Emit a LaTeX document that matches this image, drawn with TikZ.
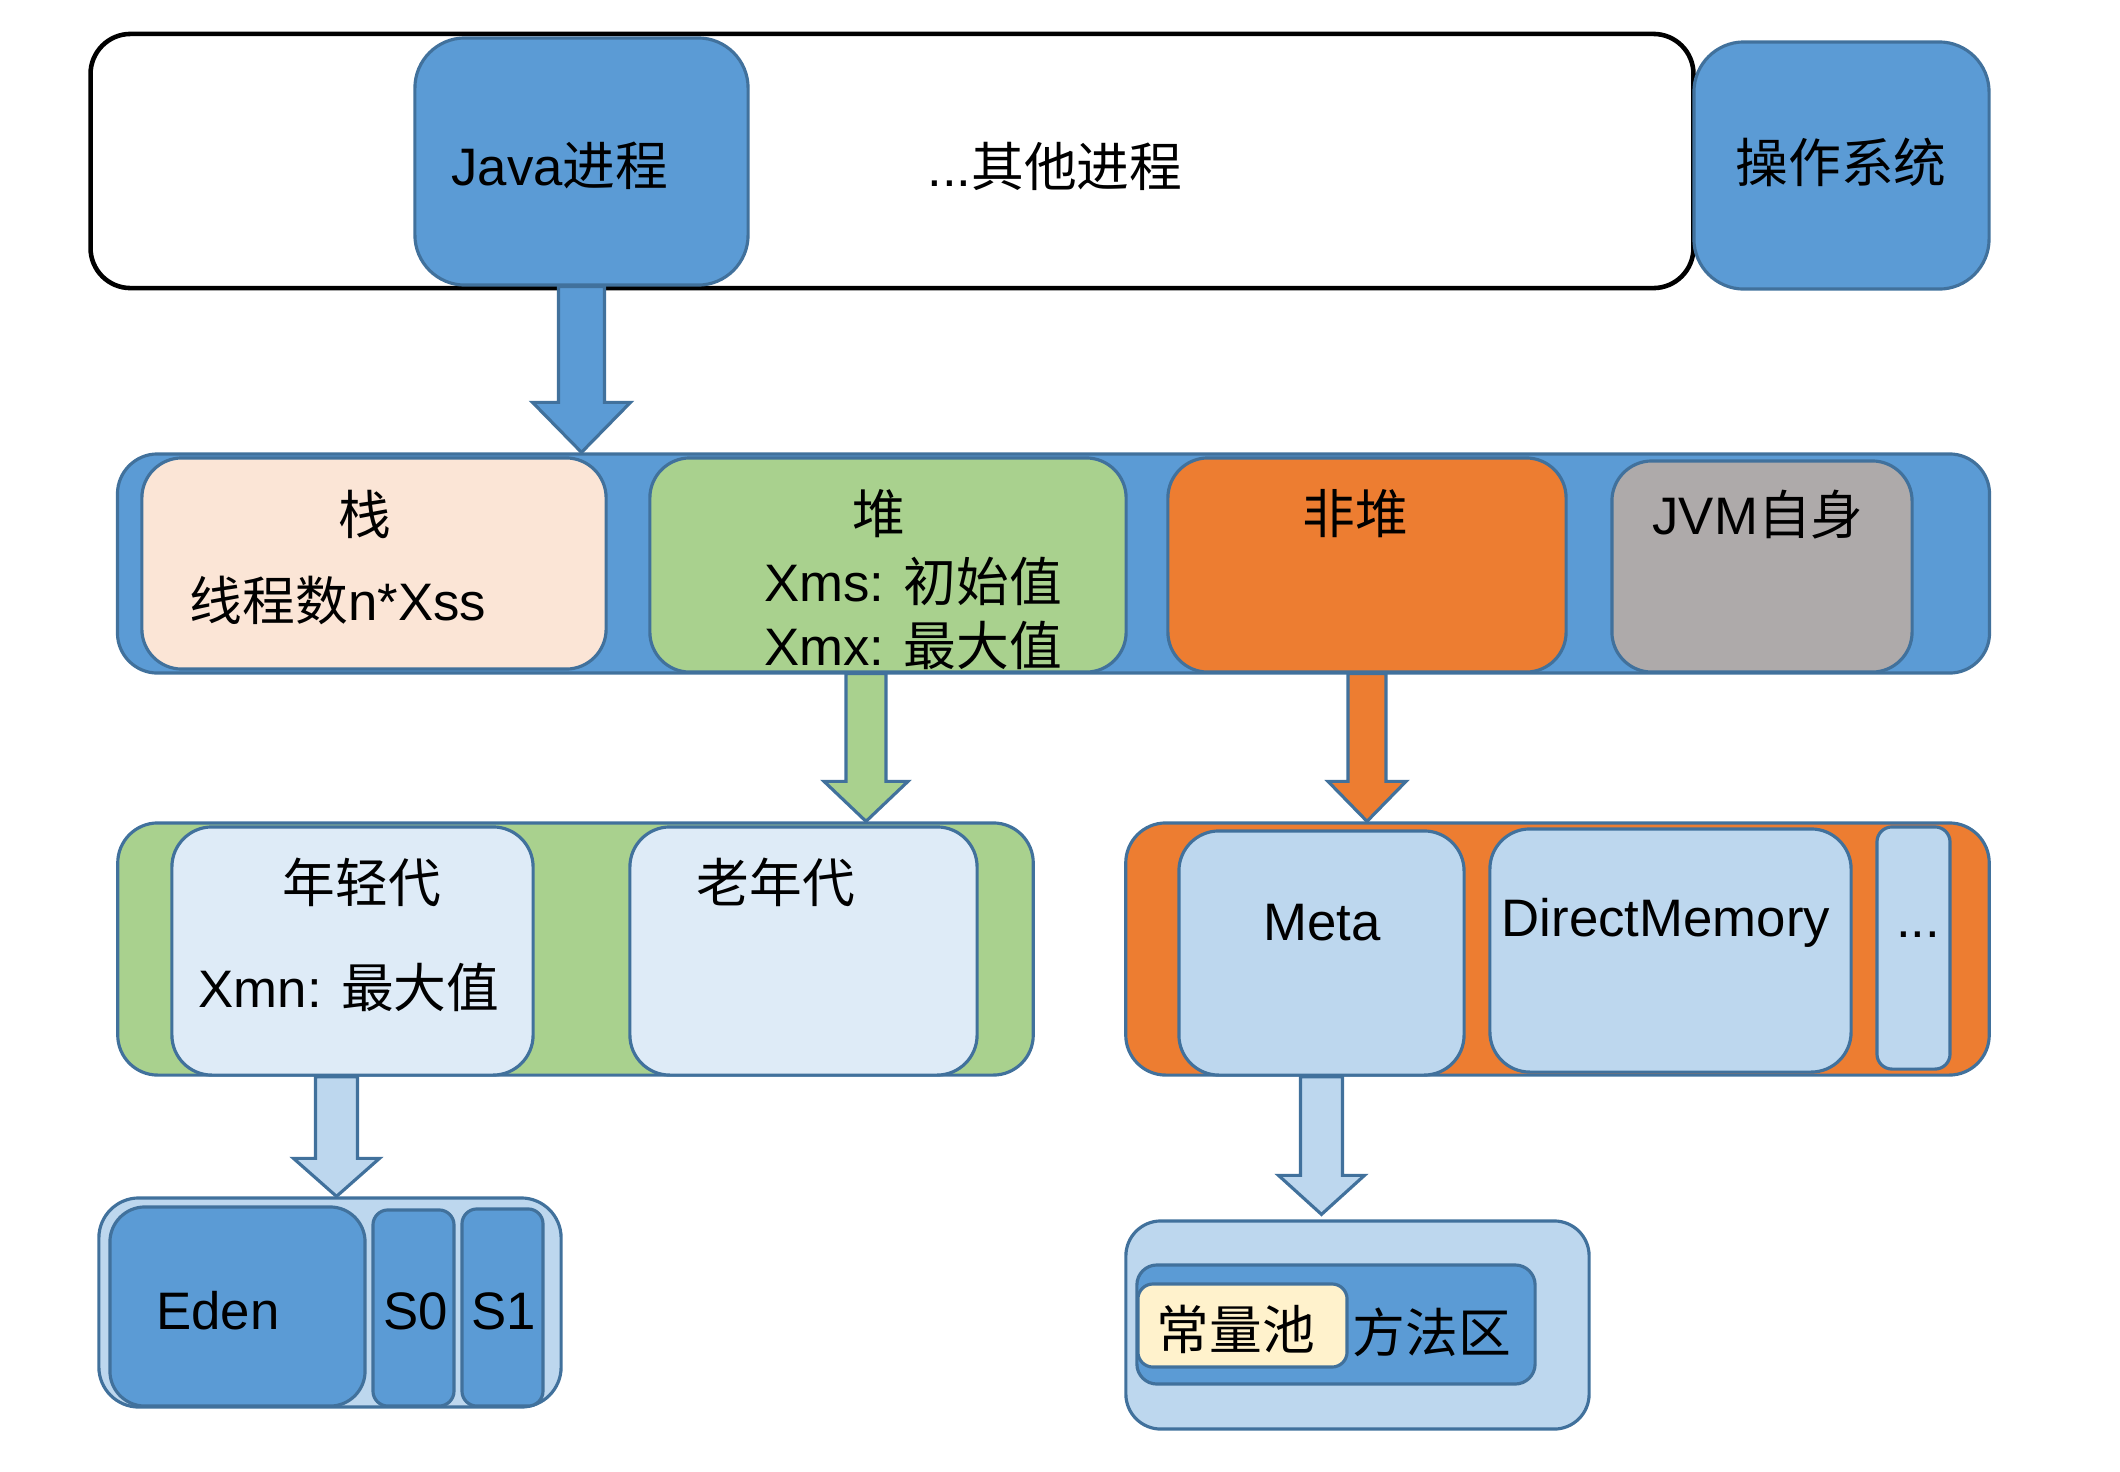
\documentclass[tikz,border=0pt]{standalone}
\usepackage{fontspec}
\setmainfont{Liberation Sans}
\newfontfamily\cjk{Noto Sans CJK SC}
\usepackage{tikz}
\usetikzlibrary{calc}
\definecolor{jblue}{HTML}{5B9BD5}
\definecolor{jedge}{HTML}{41719C}
\definecolor{jlight}{HTML}{BDD7EE}
\definecolor{jpale}{HTML}{DEEBF7}
\definecolor{jpeach}{HTML}{FBE5D6}
\definecolor{jgreen}{HTML}{A9D18E}
\definecolor{jorange}{HTML}{ED7D31}
\definecolor{jgray}{HTML}{AEAAAA}
\definecolor{jcream}{HTML}{FFF2CC}
\def\blockarrow[#1](#2)(#3)(#4:#5:#6){\draw[#1] ($(#2)+(-#4,0)$) -- ($(#3)+(-#4,-#6)$) -- ($(#3)+(-#5,-#6)$) -- (#3) -- ($(#3)+(#5,-#6)$) -- ($(#3)+(#4,-#6)$) -- ($(#2)+(#4,0)$) -- cycle;}

\begin{document}
\begin{tikzpicture}[x=0.01cm, y=-0.01cm,
		blk/.style={draw=jedge, line width=0.9pt, rounded corners=0.4cm, inner sep=0pt},
		txt/.style={inner sep=0pt, font=\fontsize{15}{18}\selectfont},
		arr/.style={draw=jedge, line width=0.9pt, line join=miter}]
			%%%%% START %%%%%
			\useasboundingbox (0,0) rectangle (2120,1472);
			
			% processes
			\node[draw=black, line width=1.3pt, rounded corners=0.4cm, fill=white, minimum width=16.02cm, minimum height=2.54cm] (procs) at (892,161) {};
			\node[blk, fill=jblue, rounded corners=0.5cm, minimum width=3.33cm, minimum height=2.47cm] (java) at (581.5,161.5) {};
			\node[blk, fill=jblue, rounded corners=0.5cm, minimum width=2.95cm, minimum height=2.47cm] (os) at (1841.5,165.5) {};
			\node[txt] (javalbl) at (560,166) {Java{\cjk 进程}};
			\node[txt] (otherlbl) at (1055,166) {...{\cjk 其他进程}};
			\node[txt] (oslbl) at (1841,162) {\cjk 操作系统};
			
			% jvm memory
			\node[blk, fill=jblue, minimum width=18.71cm, minimum height=2.19cm] (jvm) at (1053.5,563.5) {};
			\node[blk, fill=jpeach, minimum width=4.64cm, minimum height=2.11cm] (stack) at (374,563.5) {};
			\node[blk, fill=jgreen, minimum width=4.76cm, minimum height=2.14cm] (heap) at (888,565) {};
			\node[blk, fill=jorange, minimum width=3.98cm, minimum height=2.14cm] (nonheap) at (1367,565) {};
			\node[blk, fill=jgray, minimum width=3.00cm, minimum height=2.11cm] (jvmself) at (1762,566.5) {};
			\node[txt] (stacklbl) at (365,514) {\cjk 栈};
			\node[txt] (xsslbl) at (338,600) {{\cjk 线程数}n*Xss};
			\node[txt] (heaplbl) at (879,514) {\cjk 堆};
			\node[txt] (xmslbl) at (913,581) {Xms: {\cjk 初始值}};
			\node[txt] (xmxlbl) at (913,645) {Xmx: {\cjk 最大值}};
			\node[txt] (nonheaplbl) at (1355,514) {\cjk 非堆};
			\node[txt] (jvmselflbl) at (1758,515) {JVM{\cjk 自身}};
			
			% heap
			\node[blk, fill=jgreen, minimum width=9.15cm, minimum height=2.52cm] (heapbar) at (575.5,949) {};
			\node[blk, fill=jpale, minimum width=3.61cm, minimum height=2.48cm] (young) at (352.5,951) {};
			\node[blk, fill=jpale, minimum width=3.47cm, minimum height=2.48cm] (old) at (803.5,951) {};
			\node[txt] (younglbl) at (362,882) {\cjk 年轻代};
			\node[txt] (xmnlbl) at (349,987) {Xmn: {\cjk 最大值}};
			\node[txt] (oldlbl) at (776,882) {\cjk 老年代};
			
			% non-heap
			\node[blk, fill=jorange, minimum width=8.63cm, minimum height=2.52cm] (nhbar) at (1557.5,949) {};
			\node[blk, fill=jlight, minimum width=2.85cm, minimum height=2.44cm] (meta) at (1321.5,953) {};
			\node[blk, fill=jlight, minimum width=3.61cm, minimum height=2.43cm] (direct) at (1670.5,950.5) {};
			\node[blk, fill=jlight, rounded corners=0.15cm, minimum width=0.73cm, minimum height=2.42cm] (more) at (1913.5,948) {};
			\node[txt] (metalbl) at (1322,923) {Meta};
			\node[txt] (directlbl) at (1666,923) {DirectMemory};
			\node[txt] (morelbl) at (1918,935) {...};
			
			% young generation
			\node[blk, fill=jlight, minimum width=4.62cm, minimum height=2.09cm] (edengrp) at (330,1302.5) {};
			\node[blk, fill=jblue, rounded corners=0.35cm, minimum width=2.55cm, minimum height=1.99cm] (eden) at (237.5,1306.5) {};
			\node[blk, fill=jblue, rounded corners=0.15cm, minimum width=0.81cm, minimum height=1.96cm] (szero) at (413.5,1308) {};
			\node[blk, fill=jblue, rounded corners=0.15cm, minimum width=0.81cm, minimum height=1.97cm] (sone) at (502.5,1307.5) {};
			\node[txt] (edenlbl) at (218,1311) {Eden};
			\node[txt] (szerolbl) at (416,1311) {S0};
			\node[txt] (sonelbl) at (504,1311) {S1};
			
			% method area
			\node[blk, fill=jlight, rounded corners=0.35cm, minimum width=4.63cm, minimum height=2.08cm] (methgrp) at (1357.5,1325) {};
			\node[blk, fill=jblue, rounded corners=0.2cm, minimum width=3.98cm, minimum height=1.19cm] (method) at (1336,1324.5) {};
			\node[blk, fill=jcream, rounded corners=0.15cm, minimum width=2.09cm, minimum height=0.83cm] (pool) at (1242.5,1325.5) {};
			\node[txt] (methodlbl) at (1432,1332) {\cjk 方法区};
			\node[txt] (poollbl) at (1236,1329) {\cjk 常量池};
			
			% arrows
			\coordinate (javatip) at (java.south |- jvm.north);
			\coordinate (heapout) at ($(heap.south)+(-22,0)$);
			\coordinate (heaptip) at (heapout |- heapbar.north);
			\coordinate (nonheaptip) at (nonheap.south |- nhbar.north);
			\coordinate (youngout) at ($(young.south)+(-16,0)$);
			\coordinate (youngtip) at (youngout |- edengrp.north);
			\coordinate (metatip) at ($(meta.south |- methgrp.north)+(0,-5)$);
			\blockarrow[arr, fill=jblue](java.south)(javatip)(23:49:50);
			\blockarrow[arr, fill=jgreen](heapout)(heaptip)(20:42:40);
			\blockarrow[arr, fill=jorange](nonheap.south)(nonheaptip)(19:39:40);
			\blockarrow[arr, fill=jlight](youngout)(youngtip)(21:43:38);
			\blockarrow[arr, fill=jlight](meta.south)(metatip)(21:43:39);
			
			%%%%% END %%%%%
\end{tikzpicture}
\end{document}
